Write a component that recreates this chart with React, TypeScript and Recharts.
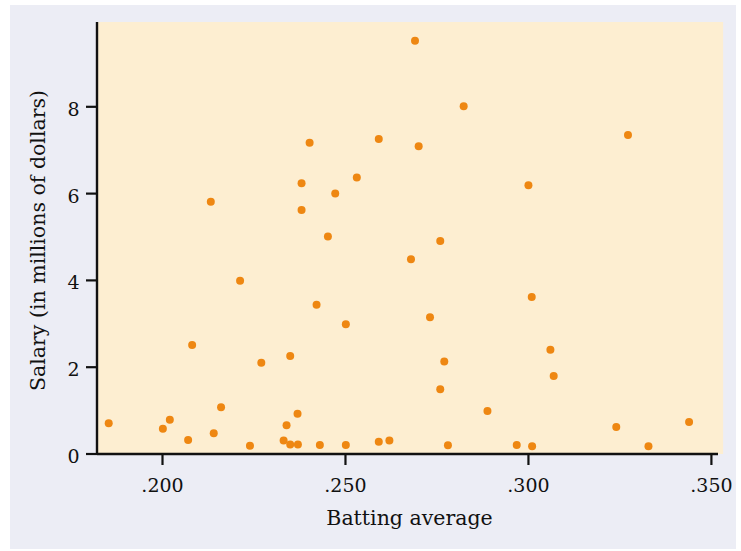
import React from "react";
import { ScatterChart, Scatter, XAxis, YAxis, ReferenceArea, Label } from "recharts";

const battingAverage = [
  0.1853, 0.2001, 0.2020, 0.2070, 0.2081, 0.2132, 0.2140, 0.2160, 0.2212, 0.2239,
  0.2270, 0.2331, 0.2339, 0.2349, 0.2349, 0.2369, 0.2370, 0.2380, 0.2380, 0.2402,
  0.2421, 0.2430, 0.2452, 0.2472, 0.2501, 0.2501, 0.2531, 0.2591, 0.2591, 0.2620,
  0.2679, 0.2690, 0.2700, 0.2731, 0.2759, 0.2759, 0.2770, 0.2780, 0.2823, 0.2888,
  0.2968, 0.3000, 0.3009, 0.3010, 0.3060, 0.3069, 0.3240, 0.3272, 0.3328, 0.3439,
];
const salaryMillions = [
  0.71, 0.58, 0.79, 0.32, 2.51, 5.81, 0.48, 1.08, 3.99, 0.19,
  2.10, 0.31, 0.66, 2.26, 0.22, 0.93, 0.22, 6.24, 5.62, 7.17,
  3.44, 0.21, 5.01, 6.00, 2.99, 0.21, 6.37, 7.26, 0.28, 0.31,
  4.49, 9.52, 7.09, 3.15, 4.91, 1.49, 2.13, 0.20, 8.01, 0.99,
  0.21, 6.19, 3.62, 0.18, 2.40, 1.80, 0.62, 7.35, 0.18, 0.74,
];
const xTicks = [0.2, 0.25, 0.3, 0.35];
const yTicks = [0, 2, 4, 6, 8];
const xLabel = "Batting average";
const yLabel = "Salary (in millions of dollars)";

const data = battingAverage.map((a, i) => ({ avg: a, salary: salaryMillions[i] }));

const X_MIN = 0.1821;
const X_MAX = 0.3518;
const Y_MAX = 9.954;

const FONT = "'DejaVu Serif', serif";
const INK = "#111";
const DOT = "#ee8712";

const fmtAvg = (v: number) => "." + Math.round(v * 1000).toString().padStart(3, "0");

const XTick = (props: any) => {
  const { x, y, payload } = props;
  return (
    <text x={x} y={y + 27} textAnchor="middle" fontFamily={FONT} fontSize={19} fill={INK}>
      {fmtAvg(payload.value)}
    </text>
  );
};

const YTick = (props: any) => {
  const { x, y, payload } = props;
  return (
    <text x={x - 6.5} y={y + 9} textAnchor="end" fontFamily={FONT} fontSize={19} fill={INK}>
      {payload.value}
    </text>
  );
};

const XLabelContent = (props: any) => {
  const vb = props.viewBox;
  return (
    <text x={vb.x + vb.width / 2 + 2} y={vb.y + 71} textAnchor="middle" fontFamily={FONT} fontSize={20.5} fill={INK}>
      {xLabel}
    </text>
  );
};

const YLabelContent = (props: any) => {
  const vb = props.viewBox;
  const cx = vb.x + 8.4;
  const cy = vb.y + vb.height / 2 + 2.5;
  return (
    <text x={cx} y={cy} transform={`rotate(-90, ${cx}, ${cy})`} textAnchor="middle" fontFamily={FONT} fontSize={20.5} fill={INK}>
      {yLabel}
    </text>
  );
};

const Dot = (props: any) => {
  const { cx, cy } = props;
  return <circle cx={cx} cy={cy} r={4} fill={DOT} />;
};

export default function App() {
  return (
    <div style={{ position: "absolute", left: 10, top: 5, width: 726, height: 544, background: "#ecedf5" }}>
      <ScatterChart width={726} height={544} margin={{ top: 17, right: 18, bottom: 35, left: 27 }}>
        <XAxis
          type="number"
          dataKey="avg"
          domain={[X_MIN, X_MAX]}
          ticks={xTicks}
          allowDataOverflow
          height={60}
          axisLine={{ stroke: INK, strokeWidth: 2.4 }}
          tickLine={{ stroke: INK, strokeWidth: 2.2 }}
          tickSize={11}
          tickMargin={0}
          tick={<XTick />}
        >
          <Label content={<XLabelContent />} />
        </XAxis>
        <YAxis
          type="number"
          dataKey="salary"
          domain={[0, Y_MAX]}
          ticks={yTicks}
          allowDataOverflow
          width={60}
          axisLine={{ stroke: INK, strokeWidth: 2.4 }}
          tickLine={{ stroke: INK, strokeWidth: 2.2 }}
          tickSize={11}
          tickMargin={0}
          tick={<YTick />}
        >
          <Label content={<YLabelContent />} />
        </YAxis>
        <ReferenceArea
          x1={X_MIN}
          x2={0.3532}
          y1={0}
          y2={Y_MAX}
          ifOverflow="visible"
          fill="#fdeed1"
          fillOpacity={1}
          stroke="none"
        />
        <Scatter data={data} isAnimationActive={false} shape={<Dot />} />
      </ScatterChart>
    </div>
  );
}
